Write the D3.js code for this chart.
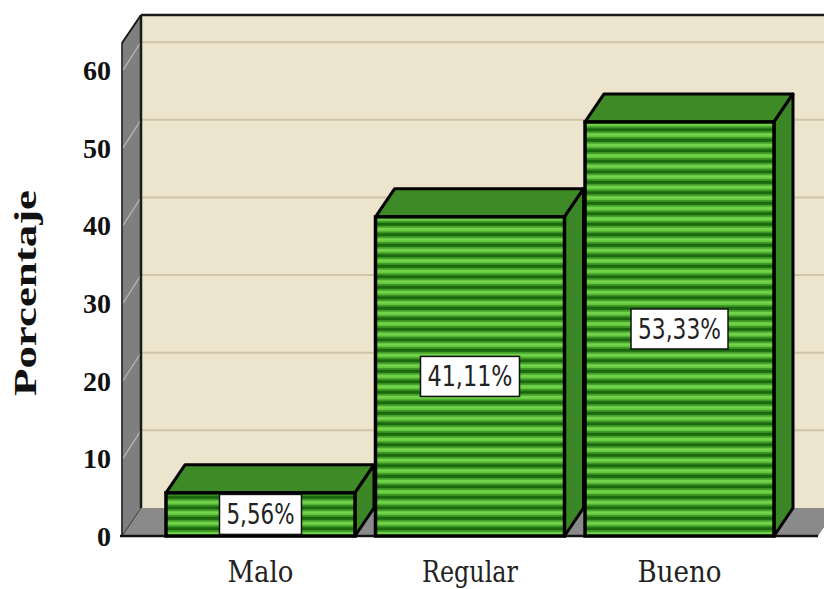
<!DOCTYPE html>
<html>
<head>
<meta charset="utf-8">
<script src="https://cdn.jsdelivr.net/npm/d3@7"></script>
<style>
  html, body { margin: 0; padding: 0; background: #ffffff; }
  svg { display: block; }
</style>
</head>
<body>
<svg id="chart" width="824" height="589"></svg>
<script>
// Survey result: share of answers per rating
const categories = ["Malo", "Regular", "Bueno"];
const values = [5.56, 41.11, 53.33];
const valueLabels = ["5,56%", "41,11%", "53,33%"];
const yTicks = [0, 10, 20, 30, 40, 50, 60];
const yTitle = "Porcentaje";

const svg = d3.select("#chart");
const W = 824, H = 589;

// 3D box geometry: depth offset of the back plane
const DX = 19, DY = -28;
const frontLeft = 122, frontRight = 818;

const y = d3.scaleLinear().domain([0, 63.5]).range([536, 43]);
const x = d3.scaleBand().domain(categories)
  .range([frontLeft, frontRight])
  .paddingInner(0.098).paddingOuter(0.21);

const yFront = v => y(v);
const yBack = v => y(v) + DY;
const xBackL = frontLeft + DX, xBackR = frontRight + DX;

// stripe pattern for bar fronts
const defs = svg.append("defs");
const pat = defs.append("pattern").attr("id", "stripes")
  .attr("patternUnits", "userSpaceOnUse")
  .attr("width", 10).attr("height", 10.5)
  .attr("y", y(0));
pat.append("rect").attr("width", 10).attr("height", 10.5).attr("fill", "#62c63c");
pat.append("rect").attr("y", 0).attr("width", 10).attr("height", 1.5).attr("fill", "#3f9a26");
pat.append("rect").attr("y", 1.5).attr("width", 10).attr("height", 3.5).attr("fill", "#1b680f");
pat.append("rect").attr("y", 5).attr("width", 10).attr("height", 1.5).attr("fill", "#3f9a26");
pat.append("rect").attr("y", 7).attr("width", 10).attr("height", 2).attr("fill", "#76d64f");

const walls = svg.append("g");

// back wall
walls.append("rect")
  .attr("x", xBackL).attr("y", yBack(63.5))
  .attr("width", xBackR - xBackL + 20).attr("height", yBack(0) - yBack(63.5))
  .attr("fill", "#ece4cd");

// back wall gridlines
walls.selectAll("line.grid").data(yTicks.filter(d => d > 0)).join("line")
  .attr("class", "grid")
  .attr("x1", xBackL).attr("x2", xBackR + 20)
  .attr("y1", d => yBack(d)).attr("y2", d => yBack(d))
  .attr("stroke", "#cdc4a9").attr("stroke-width", 2);

// floor
walls.append("path")
  .attr("d", `M${frontLeft},${yFront(0)} L${frontRight},${yFront(0)} L${xBackR},${yBack(0)} L${xBackL},${yBack(0)} Z`)
  .attr("fill", "#8a8a8a");

// left wall
walls.append("path")
  .attr("d", `M${frontLeft},${yFront(0)} L${frontLeft},${yFront(63.5)} L${xBackL},${yBack(63.5)} L${xBackL},${yBack(0)} Z`)
  .attr("fill", "#7f7f7f").attr("stroke", "#3a3a3a").attr("stroke-width", 1);

// left wall gridlines
walls.selectAll("line.lgrid").data(yTicks.filter(d => d > 0)).join("line")
  .attr("class", "lgrid")
  .attr("x1", frontLeft + 1).attr("x2", xBackL)
  .attr("y1", d => yFront(d)).attr("y2", d => yBack(d))
  .attr("stroke", "#b8b8b8").attr("stroke-width", 1.2);

// wall edges
walls.append("line")
  .attr("x1", xBackL).attr("x2", xBackL)
  .attr("y1", yBack(63.5)).attr("y2", yBack(0))
  .attr("stroke", "#1a1a1a").attr("stroke-width", 2.5);
walls.append("line")
  .attr("x1", xBackL).attr("x2", W + 20)
  .attr("y1", yBack(63.5)).attr("y2", yBack(63.5))
  .attr("stroke", "#1a1a1a").attr("stroke-width", 2.5);
walls.append("line")
  .attr("x1", frontLeft).attr("x2", xBackL)
  .attr("y1", yFront(63.5)).attr("y2", yBack(63.5))
  .attr("stroke", "#1a1a1a").attr("stroke-width", 2);
walls.append("line")
  .attr("x1", frontLeft).attr("x2", frontLeft)
  .attr("y1", yFront(63.5)).attr("y2", yFront(0))
  .attr("stroke", "#2a2a2a").attr("stroke-width", 1.5);

// front axis line
walls.append("line")
  .attr("x1", frontLeft - 2).attr("x2", frontRight)
  .attr("y1", yFront(0)).attr("y2", yFront(0))
  .attr("stroke", "#111").attr("stroke-width", 2.5);

// bars
const bars = svg.append("g");
const data = categories.map((c, i) => ({ c, v: values[i], label: valueLabels[i] }));
const bw = x.bandwidth();

data.forEach(d => {
  const x0 = x(d.c), x1 = x0 + bw;
  const yt = yFront(d.v), yb = yFront(0);
  const g = bars.append("g");
  // top face
  g.append("path")
    .attr("d", `M${x0},${yt} L${x0 + DX},${yt + DY} L${x1 + DX},${yt + DY} L${x1},${yt} Z`)
    .attr("fill", "#3e8a27").attr("stroke", "#000").attr("stroke-width", 3)
    .attr("stroke-linejoin", "round");
  // side face
  g.append("path")
    .attr("d", `M${x1},${yt} L${x1 + DX},${yt + DY} L${x1 + DX},${yb + DY} L${x1},${yb} Z`)
    .attr("fill", "#3b8626").attr("stroke", "#000").attr("stroke-width", 3)
    .attr("stroke-linejoin", "round");
  // front face
  g.append("rect")
    .attr("x", x0).attr("y", yt).attr("width", bw).attr("height", yb - yt)
    .attr("fill", "url(#stripes)").attr("stroke", "#000").attr("stroke-width", 3.5);
});

// value labels
const labelW = { "5,56%": 68, "41,11%": 85, "53,33%": 83 };
data.forEach(d => {
  const cx = x(d.c) + bw / 2;
  const cy = (yFront(d.v) + yFront(0)) / 2;
  const tw = labelW[d.label];
  const g = svg.append("g");
  g.append("rect")
    .attr("x", cx - tw / 2 - 7).attr("y", cy - 20)
    .attr("width", tw + 14).attr("height", 40)
    .attr("fill", "#ffffff").attr("stroke", "#111").attr("stroke-width", 1.5);
  g.append("text")
    .attr("x", cx - tw / 2).attr("y", cy + 10)
    .attr("textLength", tw).attr("lengthAdjust", "spacingAndGlyphs")
    .attr("font-family", "'DejaVu Sans', sans-serif")
    .attr("font-size", 28).attr("fill", "#222")
    .text(d.label);
});

// y axis tick labels
const yAxis = svg.append("g")
  .attr("transform", `translate(${frontLeft},0)`)
  .call(d3.axisLeft(y).tickValues(yTicks).tickSize(0).tickPadding(11).tickFormat(d3.format("d")));
yAxis.select(".domain").remove();
yAxis.selectAll("text")
  .attr("font-family", "'Liberation Serif', 'Times New Roman', serif")
  .attr("font-weight", "bold").attr("font-size", 28).attr("fill", "#111")
  .attr("dy", "0.34em");

// x axis category labels
const xAxis = svg.append("g")
  .attr("transform", `translate(0,${yFront(0)})`)
  .call(d3.axisBottom(x).tickSize(0).tickPadding(0));
xAxis.select(".domain").remove();
const xLabelW = { "Malo": 66, "Regular": 96, "Bueno": 84 };
xAxis.selectAll("text")
  .attr("y", 46).attr("dy", 0)
  .attr("font-family", "'DejaVu Serif', serif")
  .attr("font-size", 30).attr("fill", "#222")
  .attr("textLength", d => xLabelW[d]).attr("lengthAdjust", "spacingAndGlyphs");

// y axis title
svg.append("text")
  .attr("transform", `translate(36,293) rotate(-90)`)
  .attr("text-anchor", "middle")
  .attr("font-family", "'Liberation Serif', 'Times New Roman', serif")
  .attr("font-weight", "bold").attr("font-size", 32).attr("fill", "#111")
  .attr("textLength", 206).attr("lengthAdjust", "spacingAndGlyphs")
  .attr("x", 0).attr("y", 0)
  .text(yTitle);
</script>
</body>
</html>
